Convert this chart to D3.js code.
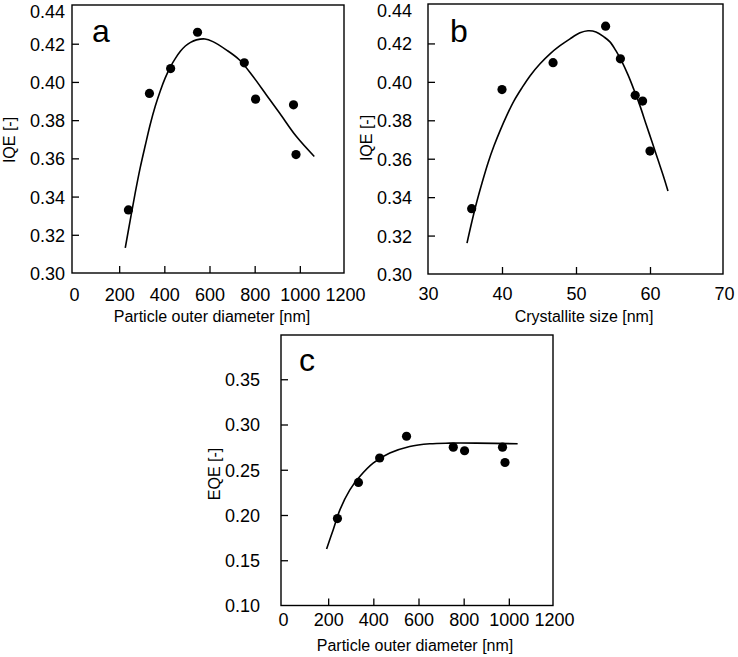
<!DOCTYPE html>
<html><head><meta charset="utf-8">
<script src="https://cdn.jsdelivr.net/npm/d3@7"></script>
<style>
body{margin:0;background:#fff}
svg{display:block}
text{font-family:"Liberation Sans",Arial,Helvetica,sans-serif;fill:#000}
</style>
</head><body>
<svg id="chart" width="738" height="657"></svg>
<script>
// ---------- data ----------
const diameterNm    = [241, 334, 428, 547, 754, 804, 972, 983];
const iqeA          = [0.333, 0.394, 0.407, 0.426, 0.410, 0.391, 0.388, 0.362];
const crystalliteNm = [35.9, 40.0, 46.9, 54.0, 56.0, 58.0, 59.0, 60.0];
const iqeB          = [0.334, 0.396, 0.410, 0.429, 0.412, 0.393, 0.390, 0.364];
const eqeC          = [0.196, 0.236, 0.263, 0.287, 0.275, 0.271, 0.275, 0.258];

const fitAx = [227, 249, 271, 293, 316, 338, 360, 382, 404, 427, 449, 471, 493, 516, 542, 580, 615, 674, 733, 793, 852, 911, 985, 1064];
const fitAy = [0.3131, 0.3277, 0.3419, 0.3550, 0.3670, 0.3780, 0.3874, 0.3953, 0.4021, 0.4079, 0.4123, 0.4160, 0.4188, 0.4207, 0.4220, 0.4225, 0.4211, 0.4168, 0.4115, 0.4028, 0.3932, 0.3836, 0.3714, 0.361];
const fitBx = [35.27, 35.95, 36.62, 37.30, 38.11, 38.92, 39.73, 40.68, 41.62, 42.70, 43.78, 45.14, 46.49, 47.84, 49.19, 50.54, 51.62, 52.70, 53.78, 54.59, 55.41, 56.22, 57.03, 57.84, 58.65, 59.46, 60.27, 61.08, 61.89, 62.43];
const fitBy = [0.3161, 0.3276, 0.3380, 0.3474, 0.3578, 0.3667, 0.3745, 0.3828, 0.3901, 0.3969, 0.4031, 0.4094, 0.4146, 0.4188, 0.4224, 0.4255, 0.4266, 0.4260, 0.4234, 0.4208, 0.4161, 0.4104, 0.4036, 0.3958, 0.3875, 0.3781, 0.3688, 0.3594, 0.3500, 0.3432];
const fitCx = [193, 222, 252, 296, 340, 399, 473, 561, 650, 738, 856, 1039];
const fitCy = [0.1625, 0.1835, 0.2057, 0.2278, 0.2425, 0.2573, 0.2684, 0.2757, 0.2787, 0.2794, 0.2794, 0.2787];

const iqeTicks   = [0.30, 0.32, 0.34, 0.36, 0.38, 0.40, 0.42, 0.44];
const eqeTicks   = [0.10, 0.15, 0.20, 0.25, 0.30, 0.35];
const diamTicks  = [0, 200, 400, 600, 800, 1000, 1200];
const crystTicks = [30, 40, 50, 60, 70];

const panelLetters = ["a", "b", "c"];
const xTitles = ["Particle outer diameter [nm]", "Crystallite size [nm]", "Particle outer diameter [nm]"];
const yTitles = ["IQE [-]", "IQE [-]", "EQE [-]"];

// ---------- drawing ----------
const svg = d3.select("#chart");
const FONT = '"Liberation Sans",Arial,Helvetica,sans-serif';

const panels = [
  { letter: panelLetters[0], xs: diameterNm, ys: iqeA, fx: fitAx, fy: fitAy,
    xDom: [0, 1200], xRange: [74, 345], yDom: [0.30, 0.44], yRange: [273, 5.5],
    box: [72, 5, 344, 273], xTicks: diamTicks, yTicks: iqeTicks, yFmt: ".2f",
    hideX: [0, 1200], hideY: [0.30, 0.44], xLab: 27.5, yLabGap: 7, topShift: 6,
    xTitle: xTitles[0], xTitleX: 212, xTitleY: 322, yTitle: yTitles[0], yTitleX: 15, yTitleY: 140,
    letterX: 92, letterY: 42 },
  { letter: panelLetters[1], xs: crystalliteNm, ys: iqeB, fx: fitBx, fy: fitBy,
    xDom: [30, 70], xRange: [428, 724], yDom: [0.30, 0.44], yRange: [274, 5],
    box: [428, 4, 723, 274], xTicks: crystTicks, yTicks: iqeTicks, yFmt: ".2f",
    hideX: [30, 70], hideY: [0.30, 0.44], xLab: 25.5, yLabGap: 16, topShift: 5,
    xTitle: xTitles[1], xTitleX: 584, xTitleY: 322, yTitle: yTitles[1], yTitleX: 372, yTitleY: 138,
    letterX: 450, letterY: 42 },
  { letter: panelLetters[2], xs: diameterNm, ys: eqeC, fx: fitCx, fy: fitCy,
    xDom: [0, 1200], xRange: [283, 554], yDom: [0.10, 0.40], yRange: [605.5, 334],
    box: [281, 335, 553, 605.5], xTicks: diamTicks, yTicks: eqeTicks, yFmt: ".2f",
    hideX: [0, 1200], hideY: [0.10], xLab: 20, yLabGap: 21, topShift: 0,
    xTitle: xTitles[2], xTitleX: 415, xTitleY: 651, yTitle: yTitles[2], yTitleX: 220, yTitleY: 474,
    letterX: 299, letterY: 371 }
];

panels.forEach(p => {
  const x = d3.scaleLinear().domain(p.xDom).range(p.xRange);
  const y = d3.scaleLinear().domain(p.yDom).range(p.yRange);
  const g = svg.append("g");

  // frame
  g.append("rect")
    .attr("x", p.box[0]).attr("y", p.box[1])
    .attr("width", p.box[2] - p.box[0]).attr("height", p.box[3] - p.box[1])
    .attr("fill", "none").attr("stroke", "#000").attr("stroke-width", 1.4);

  // x axis
  const gx = g.append("g").attr("transform", `translate(0,${p.box[3]})`)
    .call(d3.axisBottom(x).tickValues(p.xTicks).tickSize(-7).tickFormat(d3.format("d")));
  gx.attr("font-size", 18).attr("font-family", FONT);
  gx.select(".domain").remove();
  gx.selectAll(".tick line").attr("stroke-width", 1.3).filter(d => p.hideX.includes(d)).remove();
  gx.selectAll(".tick text").attr("dy", null).attr("y", p.xLab);

  // y axis
  const topVal = p.yTicks[p.yTicks.length - 1];
  const gy = g.append("g").attr("transform", `translate(${p.box[0]},0)`)
    .call(d3.axisLeft(y).tickValues(p.yTicks).tickSize(-7).tickPadding(p.yLabGap).tickFormat(d3.format(p.yFmt)));
  gy.attr("font-size", 18).attr("font-family", FONT);
  gy.select(".domain").remove();
  gy.selectAll(".tick line").attr("stroke-width", 1.3).filter(d => p.hideY.includes(d)).remove();
  gy.selectAll(".tick text").attr("x", -p.yLabGap).attr("dy", "0.36em")
    .attr("y", d => d === topVal ? p.topShift : 0);

  // fitted curve
  const pts = p.fx.map((v, i) => [v, p.fy[i]]);
  g.append("path")
    .attr("d", d3.line().x(d => x(d[0])).y(d => y(d[1])).curve(d3.curveCatmullRom.alpha(0.5))(pts))
    .attr("fill", "none").attr("stroke", "#000").attr("stroke-width", 1.6);

  // data points
  g.selectAll("circle.pt").data(p.xs.map((v, i) => [v, p.ys[i]])).enter()
    .append("circle").attr("class", "pt")
    .attr("cx", d => x(d[0])).attr("cy", d => y(d[1])).attr("r", 4.6).attr("fill", "#000");

  // titles
  g.append("text").attr("x", p.xTitleX).attr("y", p.xTitleY).attr("text-anchor", "middle")
    .attr("font-size", 16).text(p.xTitle);
  g.append("text").attr("transform", `translate(${p.yTitleX},${p.yTitleY}) rotate(-90)`)
    .attr("text-anchor", "middle").attr("font-size", 16).text(p.yTitle);

  // panel letter
  g.append("text").attr("x", p.letterX).attr("y", p.letterY).attr("font-size", 32).text(p.letter);
});
</script>
</body></html>
